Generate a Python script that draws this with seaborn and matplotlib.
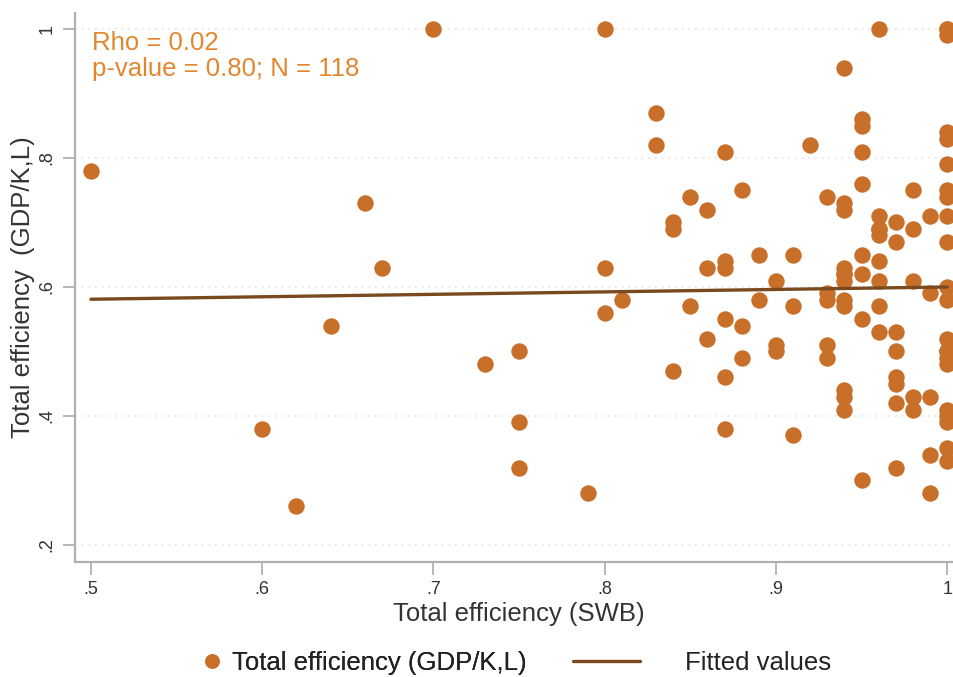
import numpy as np
import pandas as pd
import matplotlib
matplotlib.use("Agg")
import matplotlib.pyplot as plt
import seaborn as sns
from matplotlib.lines import Line2D

# ---- data ----
swb = ([0.50, 0.60, 0.62, 0.64, 0.66, 0.67, 0.70, 0.73]
       + [0.75] * 3 + [0.79] + [0.80] * 3 + [0.81] + [0.83] * 2 + [0.84] * 3
       + [0.85] * 2 + [0.86] * 3 + [0.87] * 6 + [0.88] * 3 + [0.89] * 2
       + [0.90] * 3 + [0.91] * 3 + [0.92] + [0.93] * 5 + [0.94] * 12
       + [0.95] * 8 + [0.96] * 9 + [0.97] * 8 + [0.98] * 5 + [0.99] * 5
       + [1.00] * 22)
gdp = ([0.78, 0.38, 0.26, 0.54, 0.73, 0.63, 1.00, 0.48]
       + [0.50, 0.39, 0.32]
       + [0.28]
       + [1.00, 0.63, 0.56]
       + [0.58]
       + [0.87, 0.82]
       + [0.70, 0.69, 0.47]
       + [0.74, 0.57]
       + [0.72, 0.63, 0.52]
       + [0.81, 0.64, 0.63, 0.55, 0.46, 0.38]
       + [0.75, 0.54, 0.49]
       + [0.65, 0.58]
       + [0.61, 0.51, 0.50]
       + [0.65, 0.57, 0.37]
       + [0.82]
       + [0.74, 0.59, 0.58, 0.51, 0.49]
       + [0.94, 0.73, 0.72, 0.63, 0.62, 0.62, 0.61, 0.58, 0.57, 0.44, 0.43, 0.41]
       + [0.86, 0.85, 0.81, 0.76, 0.65, 0.62, 0.55, 0.30]
       + [1.00, 0.71, 0.69, 0.69, 0.68, 0.64, 0.61, 0.57, 0.53]
       + [0.70, 0.67, 0.53, 0.50, 0.46, 0.45, 0.42, 0.32]
       + [0.75, 0.69, 0.61, 0.43, 0.41]
       + [0.71, 0.59, 0.43, 0.34, 0.28]
       + [1.00, 1.00, 0.99, 0.84, 0.83, 0.79, 0.75, 0.74, 0.71, 0.67, 0.60,
          0.58, 0.52, 0.50, 0.50, 0.49, 0.48, 0.41, 0.40, 0.39, 0.35, 0.33])
fit_x = [0.50, 1.00]
fit_y = [0.581, 0.600]
x_ticks = [0.5, 0.6, 0.7, 0.8, 0.9, 1.0]
x_tick_labels = [".5", ".6", ".7", ".8", ".9", "1"]
y_ticks = [0.2, 0.4, 0.6, 0.8, 1.0]
y_tick_labels = [".2", ".4", ".6", ".8", "1"]

df = pd.DataFrame({"swb": swb, "gdp": gdp})
fit = pd.DataFrame({"x": fit_x, "y": fit_y})

DOT = "#C8702A"
LINE = "#7A4A1E"
TXT = "#E3862D"
GRAY = "#333333"
FS = 18.5

sns.set_style("white")
plt.rcParams["font.family"] = ["Liberation Sans", "DejaVu Sans"]

W, H = 954, 677
fig = plt.figure(figsize=(W / 100, H / 100), dpi=100)
ax_l, ax_r, ax_t, ax_b = 75, 954, 13, 562
ax = fig.add_axes([ax_l / W, 1 - ax_b / H, (ax_r - ax_l) / W, (ax_b - ax_t) / H])
axw, axh = ax_r - ax_l, ax_b - ax_t

ax.set_xlim(0.4907, 1.004)
ax.set_ylim(0.1736, 1.0 + 16 / 645)

for yt in y_ticks:
    ax.axhline(yt, color="#e3e3e3", lw=1.2, ls=(0, (1, 3)), zorder=0)

sns.scatterplot(data=df, x="swb", y="gdp", color=DOT, s=140, linewidth=0,
                ax=ax, zorder=3, clip_on=False, legend=False)
sns.lineplot(data=fit, x="x", y="y", color=LINE, lw=2.4, ax=ax, zorder=4,
             legend=False)

ax.set_xticks(x_ticks)
ax.set_xticklabels(x_tick_labels, fontsize=13, color=GRAY)
ax.set_yticks(y_ticks)
ax.set_yticklabels(y_tick_labels, fontsize=13, color=GRAY, rotation=90,
                   va="center")
ax.tick_params(axis="both", direction="out", length=9, width=1.2,
               color="#aaaaaa", pad=5)
ax.tick_params(axis="y", left=True)
ax.tick_params(axis="x", bottom=True, pad=5)

for side in ["top", "right"]:
    ax.spines[side].set_visible(False)
for side in ["left", "bottom"]:
    ax.spines[side].set_color("#b0b0b0")
    ax.spines[side].set_linewidth(1.6)

ax.set_xlabel("Total efficiency (SWB)", fontsize=FS, color=GRAY, va="center")
ax.xaxis.set_label_coords((519 - ax_l) / axw, -(614 - ax_b) / axh)
ax.set_ylabel("Total efficiency  (GDP/K,L)", fontsize=FS, color=GRAY,
              va="center")
ax.yaxis.set_label_coords(-(ax_l - 23) / axw, (ax_b - 287.5) / axh)

fig.text(92 / W, 1 - 43 / H, "Rho = 0.02", fontsize=FS, color=TXT,
         va="center", ha="left")
fig.text(92 / W, 1 - 69 / H, "p-value = 0.80; N = 118", fontsize=FS,
         color=TXT, va="center", ha="left")

em = FS * 100 / 72.0
h1 = Line2D([], [], marker="o", ls="", color=DOT, markersize=9.5)
h2 = Line2D([], [], color=LINE, lw=2.4)
leg1 = fig.legend([h1], ["Total efficiency (GDP/K,L)"], loc="center left",
                  bbox_to_anchor=(202 / W, 1 - 663 / H), frameon=False,
                  fontsize=FS, handlelength=20 / em, handletextpad=10 / em,
                  borderpad=0, borderaxespad=0, labelcolor="#222222")
leg2 = fig.legend([h2], ["Fitted values"], loc="center left",
                  bbox_to_anchor=(573 / W, 1 - 663 / H), frameon=False,
                  fontsize=FS, handlelength=67 / em, handletextpad=45 / em,
                  borderpad=0, borderaxespad=0, labelcolor="#222222")
fig.add_artist(leg1)

fig.savefig("out.png", dpi=100)
